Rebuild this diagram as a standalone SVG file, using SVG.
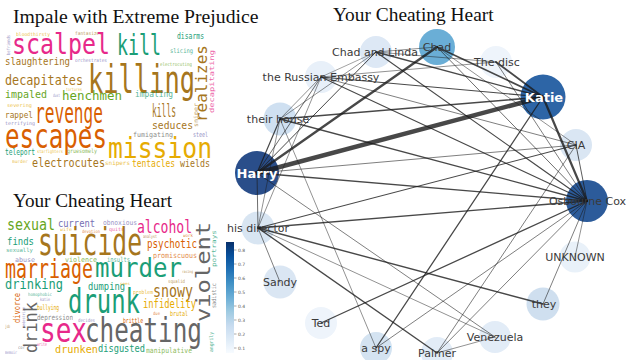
<svg xmlns="http://www.w3.org/2000/svg" width="627" height="360" viewBox="0 0 627 360">
<style>
.title{font-family:"Liberation Serif","Times New Roman",serif;fill:#111}
.w{font-family:"DejaVu Sans Mono","Liberation Mono",monospace}
.teal{fill:#1b9e77}.orange{fill:#d95f02}.lav{fill:#7570b3}.pink{fill:#e7298a}
.green{fill:#66a61e}.yellow{fill:#e6ab02}.brown{fill:#a6761d}.gray{fill:#666666}
.sm{opacity:.75}
.edge{stroke:#1a1a1a;stroke-opacity:.8;stroke-linecap:round;fill:none}
.lab{font-family:"DejaVu Sans",Verdana,sans-serif;font-size:11px;fill:#3a3a3a;text-anchor:middle}
.big{font-family:"DejaVu Sans",Verdana,sans-serif;font-size:13px;font-weight:bold;fill:#ffffff;text-anchor:middle}
.tick{font-family:"DejaVu Sans",sans-serif;font-size:4.5px;fill:#555}
</style>
<defs>
<linearGradient id="blues" x1="0" y1="1" x2="0" y2="0">
<stop offset="0" stop-color="#f7fbff"/>
<stop offset="0.125" stop-color="#deebf7"/>
<stop offset="0.25" stop-color="#c6dbef"/>
<stop offset="0.375" stop-color="#9ecae1"/>
<stop offset="0.5" stop-color="#6baed6"/>
<stop offset="0.625" stop-color="#4292c6"/>
<stop offset="0.75" stop-color="#2171b5"/>
<stop offset="0.875" stop-color="#08519c"/>
<stop offset="1" stop-color="#08306b"/>
</linearGradient>
</defs>
<rect width="627" height="360" fill="#ffffff"/>

<text class="title" x="13" y="22.5" font-size="19.7">Impale with Extreme Prejudice</text>
<text class="title" x="333" y="21" font-size="19.4">Your Cheating Heart</text>
<text class="title" x="13" y="206.5" font-size="19.2">Your Cheating Heart</text>

<g id="wordcloud1" class="w" lengthAdjust="spacingAndGlyphs">
<text class="yellow sm" x="16" y="35.5" font-size="5" textLength="34" lengthAdjust="spacingAndGlyphs">bloodthirsty</text>
<text class="brown sm" x="75" y="35" font-size="5" textLength="27" lengthAdjust="spacingAndGlyphs">fantasizes</text>
<text class="lav sm" transform="translate(10,55) rotate(-90)" font-size="4.5" textLength="20" lengthAdjust="spacingAndGlyphs">befriends</text>
<text class="pink" x="12" y="54" font-size="29" textLength="98" lengthAdjust="spacingAndGlyphs">scalpel</text>
<text class="teal" x="117" y="55" font-size="29" textLength="44" lengthAdjust="spacingAndGlyphs">kill</text>
<text class="teal" x="177" y="39" font-size="8.5" textLength="27" lengthAdjust="spacingAndGlyphs">disarms</text>
<text class="teal sm" x="170" y="53" font-size="6.5" textLength="23" lengthAdjust="spacingAndGlyphs">slicing</text>
<text class="brown" x="5" y="65" font-size="10" textLength="65" lengthAdjust="spacingAndGlyphs">slaughtering</text>
<text class="lav sm" x="75" y="62" font-size="5" textLength="32" lengthAdjust="spacingAndGlyphs">orchestrates</text>
<text class="green sm" x="160" y="66" font-size="5" textLength="32" lengthAdjust="spacingAndGlyphs">electrocuting</text>
<text class="brown" x="5" y="85" font-size="14.5" textLength="78" lengthAdjust="spacingAndGlyphs">decapitates</text>
<text class="brown" x="88" y="93" font-size="39" textLength="107" lengthAdjust="spacingAndGlyphs">killing</text>
<text class="brown" transform="translate(207,122) rotate(-90)" font-size="16" textLength="77" lengthAdjust="spacingAndGlyphs">realizes</text>
<text class="pink sm" transform="translate(213.5,113) rotate(-90)" font-size="6.5" textLength="63" lengthAdjust="spacingAndGlyphs">decapitating</text>
<text class="yellow sm" x="66" y="90.5" font-size="4.5" textLength="16" lengthAdjust="spacingAndGlyphs">tortures</text>
<text class="green" x="5" y="98" font-size="10.5" textLength="42" lengthAdjust="spacingAndGlyphs">impaled</text>
<text class="lav sm" x="53" y="97" font-size="4.5" textLength="7" lengthAdjust="spacingAndGlyphs">dust</text>
<text class="green" x="62" y="100" font-size="12" textLength="60" lengthAdjust="spacingAndGlyphs">henchmen</text>
<text class="teal sm" x="135" y="97" font-size="9" textLength="38" lengthAdjust="spacingAndGlyphs">impaling</text>
<text class="yellow sm" x="7" y="107" font-size="5" textLength="25" lengthAdjust="spacingAndGlyphs">severing</text>
<text class="brown" x="5" y="118" font-size="9.5" textLength="28" lengthAdjust="spacingAndGlyphs">rappel</text>
<text class="orange" x="35" y="123" font-size="29" textLength="68" lengthAdjust="spacingAndGlyphs">revenge</text>
<text class="brown" x="152" y="117" font-size="18" textLength="24" lengthAdjust="spacingAndGlyphs">kills</text>
<text class="brown sm" transform="translate(197.5,127) rotate(-90)" font-size="6" textLength="24" lengthAdjust="spacingAndGlyphs">sniper</text>
<text class="lav sm" x="5" y="125" font-size="5" textLength="30" lengthAdjust="spacingAndGlyphs">terrifying</text>
<text class="brown" x="152" y="129" font-size="11" textLength="41" lengthAdjust="spacingAndGlyphs">seduces</text>
<text class="orange" x="5" y="148" font-size="33" textLength="102" lengthAdjust="spacingAndGlyphs">escapes</text>
<text class="gray sm" x="133" y="137" font-size="7" textLength="40" lengthAdjust="spacingAndGlyphs">fumigating</text>
<text class="lav sm" x="193" y="137" font-size="7" textLength="15" lengthAdjust="spacingAndGlyphs">steel</text>
<text class="yellow" x="108" y="158" font-size="28" textLength="104" lengthAdjust="spacingAndGlyphs">mission</text>
<text class="teal" x="5" y="155" font-size="9" textLength="30" lengthAdjust="spacingAndGlyphs">teleport</text>
<text class="yellow sm" x="37" y="153" font-size="4.5" textLength="26" lengthAdjust="spacingAndGlyphs">starfighters</text>
<text class="green sm" x="67" y="153" font-size="6" textLength="30" lengthAdjust="spacingAndGlyphs">gruesomely</text>
<text class="yellow sm" x="12" y="163" font-size="4.5" textLength="16" lengthAdjust="spacingAndGlyphs">murder</text>
<text class="brown" x="32" y="167" font-size="12" textLength="73" lengthAdjust="spacingAndGlyphs">electrocutes</text>
<text class="yellow sm" x="105" y="165" font-size="6" textLength="25" lengthAdjust="spacingAndGlyphs">snipers</text>
<text class="yellow" x="132" y="167" font-size="10" textLength="43" lengthAdjust="spacingAndGlyphs">tentacles</text>
<text class="brown" x="180" y="167" font-size="10" textLength="30" lengthAdjust="spacingAndGlyphs">wields</text>
</g>

<g id="wordcloud2" class="w">
<text class="green" x="7" y="230" font-size="15" textLength="48" lengthAdjust="spacingAndGlyphs">sexual</text>
<text class="lav" x="58" y="227" font-size="10.5" textLength="37" lengthAdjust="spacingAndGlyphs">current</text>
<text class="lav sm" x="103" y="225" font-size="7" textLength="34" lengthAdjust="spacingAndGlyphs">obnoxious</text>
<text class="pink" x="137" y="233" font-size="18" textLength="55" lengthAdjust="spacingAndGlyphs">alcohol</text>
<text class="gray" transform="translate(210,322) rotate(-90)" font-size="20" textLength="100" lengthAdjust="spacingAndGlyphs">violent</text>
<text class="yellow sm" x="60" y="231" font-size="4.5" textLength="12" lengthAdjust="spacingAndGlyphs">wife</text>
<text class="orange sm" x="82" y="233" font-size="4.5" textLength="18" lengthAdjust="spacingAndGlyphs">devotion</text>
<text class="pink sm" x="109" y="231" font-size="5" textLength="15" lengthAdjust="spacingAndGlyphs">quits</text>
<text class="brown sm" x="143" y="238" font-size="4.5" textLength="14" lengthAdjust="spacingAndGlyphs">analyst</text>
<text class="orange sm" x="183" y="237" font-size="4.5" textLength="10" lengthAdjust="spacingAndGlyphs">work</text>
<text class="teal sm" transform="translate(215.5,267) rotate(-90)" font-size="6" textLength="37" lengthAdjust="spacingAndGlyphs">portrays</text>
<text class="teal" x="7" y="245" font-size="10" textLength="27" lengthAdjust="spacingAndGlyphs">finds</text>
<text class="teal sm" x="6" y="252" font-size="5.5" textLength="27" lengthAdjust="spacingAndGlyphs">sexually</text>
<text class="brown" x="38" y="255" font-size="37" textLength="104" lengthAdjust="spacingAndGlyphs">suicide</text>
<text class="orange" x="147" y="248" font-size="12" textLength="50" lengthAdjust="spacingAndGlyphs">psychotic</text>
<text class="lav sm" x="15" y="262" font-size="6.5" textLength="20" lengthAdjust="spacingAndGlyphs">abuse</text>
<text class="green sm" x="65" y="262" font-size="7" textLength="32" lengthAdjust="spacingAndGlyphs">violence</text>
<text class="teal sm" x="107" y="262" font-size="7" textLength="23" lengthAdjust="spacingAndGlyphs">insults</text>
<text class="orange sm" x="153" y="258" font-size="7.5" textLength="44" lengthAdjust="spacingAndGlyphs">promiscuous</text>
<text class="orange" x="5" y="278" font-size="27" textLength="88" lengthAdjust="spacingAndGlyphs">marriage</text>
<text class="teal" x="95" y="277" font-size="27" textLength="87" lengthAdjust="spacingAndGlyphs">murder</text>
<text class="brown sm" x="182" y="273" font-size="4" textLength="11" lengthAdjust="spacingAndGlyphs">racing</text>
<text class="teal" x="5" y="289" font-size="14" textLength="58" lengthAdjust="spacingAndGlyphs">drinking</text>
<text class="teal" x="88" y="290" font-size="11" textLength="37" lengthAdjust="spacingAndGlyphs">dumping</text>
<text class="yellow sm" x="120" y="285" font-size="4" textLength="10" lengthAdjust="spacingAndGlyphs">sees</text>
<text class="brown sm" x="168" y="283" font-size="5" textLength="17" lengthAdjust="spacingAndGlyphs">squalid</text>
<text class="brown" x="153" y="297" font-size="18" textLength="40" lengthAdjust="spacingAndGlyphs">snowy</text>
<text class="teal sm" x="28" y="296" font-size="4.5" textLength="24" lengthAdjust="spacingAndGlyphs">homophobic</text>
<text class="lav sm" x="40" y="301" font-size="4.5" textLength="10" lengthAdjust="spacingAndGlyphs">katie</text>
<text class="yellow sm" x="133" y="294" font-size="5.5" textLength="20" lengthAdjust="spacingAndGlyphs">problem</text>
<text class="teal" x="68" y="313" font-size="33" textLength="72" lengthAdjust="spacingAndGlyphs">drunk</text>
<text class="orange" transform="translate(20,323) rotate(-90)" font-size="9" textLength="30" lengthAdjust="spacingAndGlyphs">divorce</text>
<text class="lav sm" transform="translate(24.5,328) rotate(-90)" font-size="4" textLength="21" lengthAdjust="spacingAndGlyphs">pedestrian</text>
<text class="gray" transform="translate(37,353) rotate(-90)" font-size="17" textLength="51" lengthAdjust="spacingAndGlyphs">drink</text>
<text class="yellow" x="143" y="308" font-size="12" textLength="53" lengthAdjust="spacingAndGlyphs">infidelity</text>
<text class="gray sm" transform="translate(215.5,308) rotate(-90)" font-size="6" textLength="25" lengthAdjust="spacingAndGlyphs">sadistic</text>
<text class="yellow" x="37" y="310" font-size="7.5" textLength="22" lengthAdjust="spacingAndGlyphs">bullying</text>
<text class="gray sm" x="37" y="320" font-size="7.5" textLength="36" lengthAdjust="spacingAndGlyphs">depression</text>
<text class="orange sm" x="153" y="315" font-size="4.5" textLength="7" lengthAdjust="spacingAndGlyphs">due</text>
<text class="yellow" x="170" y="316" font-size="7" textLength="18" lengthAdjust="spacingAndGlyphs">brutal</text>
<text class="lav sm" x="78" y="322" font-size="5" textLength="17" lengthAdjust="spacingAndGlyphs">decides</text>
<text class="orange" x="123" y="323" font-size="7" textLength="20" lengthAdjust="spacingAndGlyphs">brittle</text>
<text class="brown sm" x="5" y="328" font-size="4.5" textLength="5" lengthAdjust="spacingAndGlyphs">job</text>
<text class="pink" x="40" y="342" font-size="34" textLength="47" lengthAdjust="spacingAndGlyphs">sex</text>
<text class="gray" x="85" y="342" font-size="33" textLength="117" lengthAdjust="spacingAndGlyphs">cheating</text>
<text class="teal sm" transform="translate(212.5,352) rotate(-90)" font-size="5" textLength="20" lengthAdjust="spacingAndGlyphs">angrily</text>
<text class="pink sm" x="37" y="346" font-size="5" textLength="10" lengthAdjust="spacingAndGlyphs">write</text>
<text class="yellow" x="55" y="353" font-size="11" textLength="43" lengthAdjust="spacingAndGlyphs">drunken</text>
<text class="teal" x="98" y="352" font-size="11" textLength="47" lengthAdjust="spacingAndGlyphs">disgusted</text>
<text class="green sm" x="146" y="353" font-size="7.5" textLength="46" lengthAdjust="spacingAndGlyphs">manipulative</text>
<text class="gray sm" x="18" y="349" font-size="4.5" textLength="7" lengthAdjust="spacingAndGlyphs">cor</text>
<text class="lav sm" x="5" y="354" font-size="4.5" textLength="12" lengthAdjust="spacingAndGlyphs">memoir</text>
</g>

<g id="colorbar">
<rect x="226" y="242" width="8" height="111" fill="url(#blues)"/>
<g stroke="#555" stroke-width="0.5">
<line x1="234" y1="250" x2="236.5" y2="250"/><line x1="234" y1="264" x2="236.5" y2="264"/>
<line x1="234" y1="278" x2="236.5" y2="278"/><line x1="234" y1="292" x2="236.5" y2="292"/>
<line x1="234" y1="306" x2="236.5" y2="306"/><line x1="234" y1="320" x2="236.5" y2="320"/>
<line x1="234" y1="334" x2="236.5" y2="334"/><line x1="234" y1="348" x2="236.5" y2="348"/>
</g>
<text class="tick" x="238" y="251.6">0.8</text><text class="tick" x="238" y="265.6">0.7</text>
<text class="tick" x="238" y="279.6">0.6</text><text class="tick" x="238" y="293.6">0.5</text>
<text class="tick" x="238" y="307.6">0.4</text><text class="tick" x="238" y="321.6">0.3</text>
<text class="tick" x="238" y="335.6">0.2</text><text class="tick" x="238" y="349.6">0.1</text>
</g>

<g id="node-circles">
<circle id="n-chad-and-linda" cx="376" cy="52" r="16" fill="#dde8f5"/>
<circle id="n-chad" cx="437" cy="47" r="18" fill="#6aaed6"/>
<circle id="n-the-disc" cx="496" cy="62" r="16" fill="#eef4fb"/>
<circle id="n-russian-embassy" cx="321" cy="77" r="16" fill="#e8f0f9"/>
<circle id="n-katie" cx="543" cy="97" r="22.5" fill="#2d65a6"/>
<circle id="n-their-house" cx="280" cy="119" r="16.5" fill="#cfe0f1"/>
<circle id="n-cia" cx="576" cy="145" r="16" fill="#dae6f3"/>
<circle id="n-harry" cx="257" cy="173" r="22" fill="#2a4e8a"/>
<circle id="n-osbourne-cox" cx="587" cy="201" r="21" fill="#2c5b9a"/>
<circle id="n-his-director" cx="258" cy="228" r="16.5" fill="#d8e5f2"/>
<circle id="n-unknown" cx="575" cy="257" r="15.5" fill="#e9f1f9"/>
<circle id="n-sandy" cx="280" cy="282" r="16.5" fill="#dae6f3"/>
<circle id="n-they" cx="543" cy="304" r="16.5" fill="#cfdfef"/>
<circle id="n-ted" cx="321" cy="323" r="16" fill="#eef4fb"/>
<circle id="n-venezuela" cx="495" cy="337" r="16" fill="#e2ecf7"/>
<circle id="n-a-spy" cx="376" cy="348" r="16" fill="#d4e3f1"/>
<circle id="n-palmer" cx="437" cy="353" r="16" fill="#e2ecf7"/>
</g>

<g id="connectors" class="edge">
<line x1="257" y1="173" x2="376" y2="52" stroke-width="1"/>
<line x1="257" y1="173" x2="321" y2="77" stroke-width="0.8"/>
<line x1="257" y1="173" x2="280" y2="119" stroke-width="1.2"/>
<line x1="257" y1="173" x2="258" y2="228" stroke-width="0.8"/>
<line x1="257" y1="173" x2="576" y2="145" stroke-width="0.7"/>
<line x1="257" y1="173" x2="587" y2="201" stroke-width="1.3"/>
<line x1="257" y1="173" x2="495" y2="337" stroke-width="0.7"/>
<line x1="258" y1="228" x2="587" y2="201" stroke-width="1.3"/>
<line x1="258" y1="228" x2="576" y2="145" stroke-width="1.1"/>
<line x1="258" y1="228" x2="543" y2="304" stroke-width="1.4"/>
<line x1="258" y1="228" x2="437" y2="353" stroke-width="1.4"/>
<line x1="258" y1="228" x2="495" y2="337" stroke-width="0.6"/>
<line x1="258" y1="228" x2="280" y2="282" stroke-width="0.7"/>
<line x1="258" y1="228" x2="321" y2="77" stroke-width="0.6"/>
<line x1="258" y1="228" x2="280" y2="119" stroke-width="0.6"/>
<line x1="543" y1="97" x2="376" y2="52" stroke-width="1.4"/>
<line x1="543" y1="97" x2="437" y2="47" stroke-width="1.6"/>
<line x1="543" y1="97" x2="496" y2="62" stroke-width="1.8"/>
<line x1="543" y1="97" x2="321" y2="77" stroke-width="1.1"/>
<line x1="543" y1="97" x2="280" y2="119" stroke-width="1.6"/>
<line x1="543" y1="97" x2="587" y2="201" stroke-width="2.2"/>
<line x1="543" y1="97" x2="376" y2="348" stroke-width="1.3"/>
<line x1="587" y1="201" x2="437" y2="47" stroke-width="0.8"/>
<line x1="587" y1="201" x2="376" y2="52" stroke-width="1.1"/>
<line x1="587" y1="201" x2="321" y2="77" stroke-width="1.1"/>
<line x1="587" y1="201" x2="280" y2="119" stroke-width="1.3"/>
<line x1="587" y1="201" x2="496" y2="62" stroke-width="0.7"/>
<line x1="587" y1="201" x2="321" y2="323" stroke-width="1.3"/>
<line x1="587" y1="201" x2="376" y2="348" stroke-width="0.7"/>
<line x1="587" y1="201" x2="437" y2="353" stroke-width="0.7"/>
<line x1="587" y1="201" x2="575" y2="257" stroke-width="0.6"/>
<line x1="587" y1="201" x2="543" y2="304" stroke-width="0.7"/>
<line x1="587" y1="201" x2="576" y2="145" stroke-width="0.9"/>
<line x1="576" y1="145" x2="321" y2="77" stroke-width="0.7"/>
<line x1="576" y1="145" x2="437" y2="353" stroke-width="0.7"/>
<line x1="576" y1="145" x2="437" y2="47" stroke-width="0.6"/>
<line x1="376" y1="52" x2="280" y2="119" stroke-width="0.6"/>
<line x1="376" y1="52" x2="321" y2="77" stroke-width="0.5"/>
<line x1="376" y1="52" x2="496" y2="62" stroke-width="0.6"/>
<line x1="376" y1="52" x2="437" y2="47" stroke-width="0.6"/>
<line x1="321" y1="77" x2="280" y2="119" stroke-width="0.6"/>
<line x1="321" y1="77" x2="496" y2="62" stroke-width="0.6"/>
<line x1="280" y1="119" x2="376" y2="348" stroke-width="0.6"/>
<line x1="495" y1="337" x2="437" y2="353" stroke-width="0.6"/>
<line x1="257" y1="173" x2="437" y2="47" stroke-width="2.4"/>
<line x1="257" y1="173" x2="543" y2="97" stroke-width="4.5"/>
</g>

<g id="node-labels">
<text class="lab" x="375" y="56">Chad and Linda</text>
<text class="lab" x="437" y="51">Chad</text>
<text class="lab" x="497" y="66">The disc</text>
<text class="lab" x="321" y="81">the Russian Embassy</text>
<text class="big" x="544" y="101.5">Katie</text>
<text class="lab" x="278" y="123">their house</text>
<text class="lab" x="576" y="149">CIA</text>
<text class="big" x="257" y="177.5">Harry</text>
<text class="lab" x="587.5" y="205">Osbourne Cox</text>
<text class="lab" x="258" y="232">his director</text>
<text class="lab" x="575" y="261">UNKNOWN</text>
<text class="lab" x="280" y="286">Sandy</text>
<text class="lab" x="544" y="308">they</text>
<text class="lab" x="321" y="327">Ted</text>
<text class="lab" x="495" y="341">Venezuela</text>
<text class="lab" x="376" y="352">a spy</text>
<text class="lab" x="437" y="357">Palmer</text>
</g>
</svg>
